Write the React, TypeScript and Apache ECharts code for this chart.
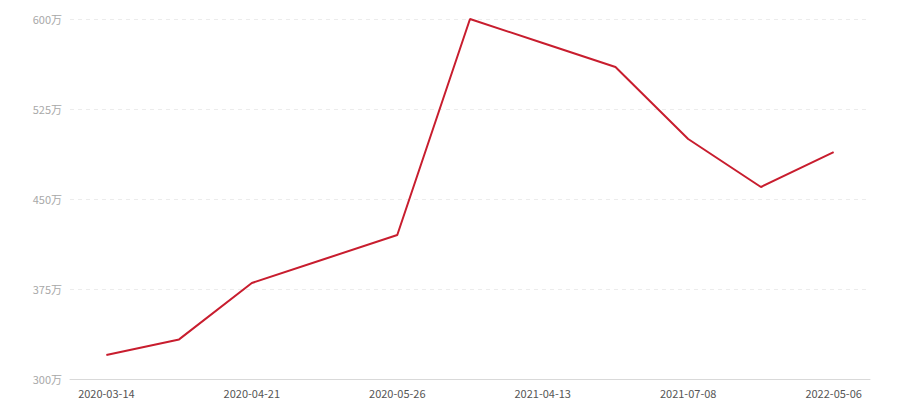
import { useEffect, useRef } from 'react';
import * as echarts from 'echarts';

// 11 categories; only every other label is shown on the axis
const dates = [
  '2020-03-14', '2020-03-30', '2020-04-21', '2020-05-08', '2020-05-26',
  '2021-01-18', '2021-04-13', '2021-05-27', '2021-07-08', '2021-11-22', '2022-05-06',
];
const values = [320, 333, 380, 400, 420, 600, 580, 560, 500, 460, 489];
const yTicks = { min: 300, max: 600, interval: 75 };

export default function App() {
  const chartRef = useRef<HTMLDivElement>(null);

  useEffect(() => {
    document.body.style.margin = '0';
    if (!chartRef.current) return;
    const chart = echarts.init(chartRef.current, undefined, { renderer: 'svg' });
    chart.setOption({
      animation: false,
      backgroundColor: '#fff',
      grid: { left: 70, right: 30, top: 19, bottom: 21 },
      xAxis: {
        type: 'category',
        data: dates,
        boundaryGap: true,
        axisLine: { lineStyle: { color: '#d9d9d9', width: 1 } },
        axisTick: { alignWithLabel: true, interval: 1, length: 4, lineStyle: { color: '#d9d9d9' } },
        axisLabel: {
          interval: 1,
          color: '#555',
          fontSize: 11,
          margin: 8,
          fontFamily: '"Noto Sans CJK SC", "Noto Sans", sans-serif',
        },
      },
      yAxis: {
        type: 'value',
        min: yTicks.min,
        max: yTicks.max,
        interval: yTicks.interval,
        axisLine: { show: false },
        axisTick: { show: false },
        axisLabel: {
          color: '#a8a8a8',
          fontSize: 11,
          margin: 8,
          fontFamily: '"Noto Sans CJK SC", "Noto Sans", sans-serif',
          formatter: (v: number) => `${v}万`,
        },
        splitLine: { lineStyle: { color: '#ececec', type: [4, 4] } },
      },
      series: [
        {
          type: 'line',
          data: values,
          showSymbol: false,
          symbol: 'none',
          lineStyle: { color: '#c81d2e', width: 2 },
        },
      ],
    });
    return () => chart.dispose();
  }, []);

  return <div ref={chartRef} style={{ width: 900, height: 400 }} />;
}
